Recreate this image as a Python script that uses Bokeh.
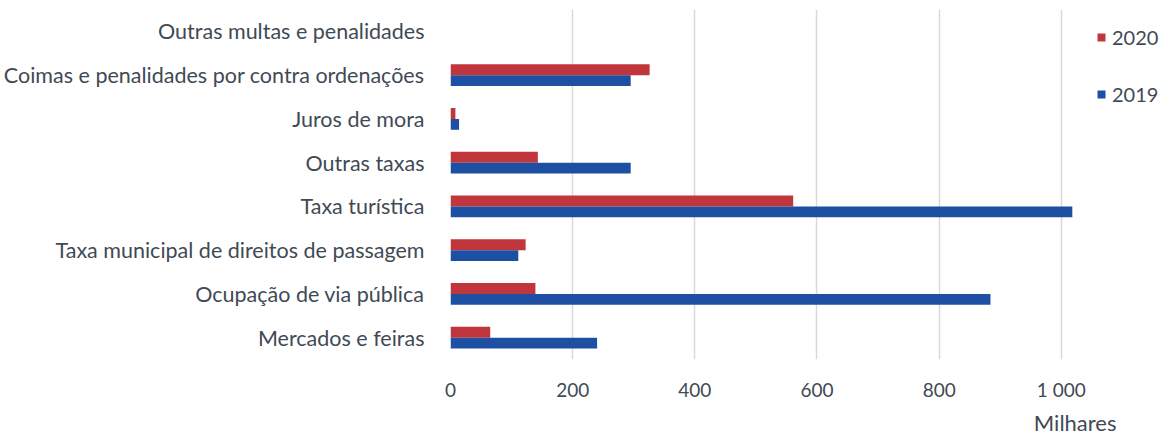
from bokeh.plotting import figure
from bokeh.models import FactorRange, Range1d, FixedTicker, Legend, LegendItem, Title, ColumnDataSource
from bokeh.transform import dodge
from bokeh.embed import file_html
from bokeh.resources import INLINE

categories = [
    "Outras multas e penalidades",
    "Coimas e penalidades por contra ordenações",
    "Juros de mora",
    "Outras taxas",
    "Taxa turística",
    "Taxa municipal de direitos de passagem",
    "Ocupação de via pública",
    "Mercados e feiras",
]
values_2020 = [0, 326, 8, 143, 561, 123, 139, 65]
values_2019 = [0, 295, 14, 295, 1018, 111, 884, 240]
tick_values = [0, 200, 400, 600, 800, 1000]
tick_labels = ["0", "200", "400", "600", "800", "1 000"]

RED = "#C1363C"
BLUE = "#1D4FA3"
TXT = "#3F4A55"
FONT = "Lato"

factors = list(reversed(categories))
src = ColumnDataSource(dict(cat=categories, v2020=values_2020, v2019=values_2019))

p = figure(width=1161, height=438, output_backend="svg", toolbar_location=None,
           y_range=FactorRange(factors=factors, range_padding=0),
           x_range=Range1d(0, 1164),
           min_border_left=450, min_border_right=0, min_border_top=9, min_border_bottom=0)
p.outline_line_color = None

r20 = p.hbar(y=dodge("cat", 0.125, range=p.y_range), right="v2020", left=0, height=0.25,
             source=src, fill_color=RED, line_color=None)
r19 = p.hbar(y=dodge("cat", -0.125, range=p.y_range), right="v2019", left=0, height=0.25,
             source=src, fill_color=BLUE, line_color=None)

p.xaxis.ticker = FixedTicker(ticks=tick_values)
p.xaxis.major_label_overrides = {v: l for v, l in zip(tick_values, tick_labels)}
for ax in (p.xaxis, p.yaxis):
    ax.axis_line_color = None
    ax.major_tick_line_color = None
    ax.minor_tick_line_color = None
    ax.major_label_text_font = FONT
    ax.major_label_text_color = TXT
p.yaxis.major_label_text_font_size = "21.5px"
p.xaxis.major_label_text_font_size = "19px"
p.xaxis.major_label_standoff = 12
p.yaxis.major_label_standoff = 20

p.ygrid.grid_line_color = None
p.xgrid.grid_line_color = "#D9D9D9"
p.xgrid.grid_line_width = 1.5

legend = Legend(items=[LegendItem(label="2020", renderers=[r20]),
                       LegendItem(label="2019", renderers=[r19])],
                location=(646, 253), orientation="vertical")
legend.glyph_width = 10
legend.glyph_height = 10
legend.label_height = 20
legend.spacing = 33
legend.padding = 0
legend.margin = 0
legend.label_standoff = 6
legend.border_line_color = None
legend.background_fill_alpha = 0
legend.label_text_font = FONT
legend.label_text_font_size = "20px"
legend.label_text_color = TXT
p.add_layout(legend)

milhares = Title(text="Milhares", align="right", offset=45, text_font=FONT,
                 text_font_size="22px", text_color=TXT, text_font_style="normal",
                 standoff=6)
p.add_layout(milhares, "below")

open("out.html", "w").write(file_html(p, INLINE))
